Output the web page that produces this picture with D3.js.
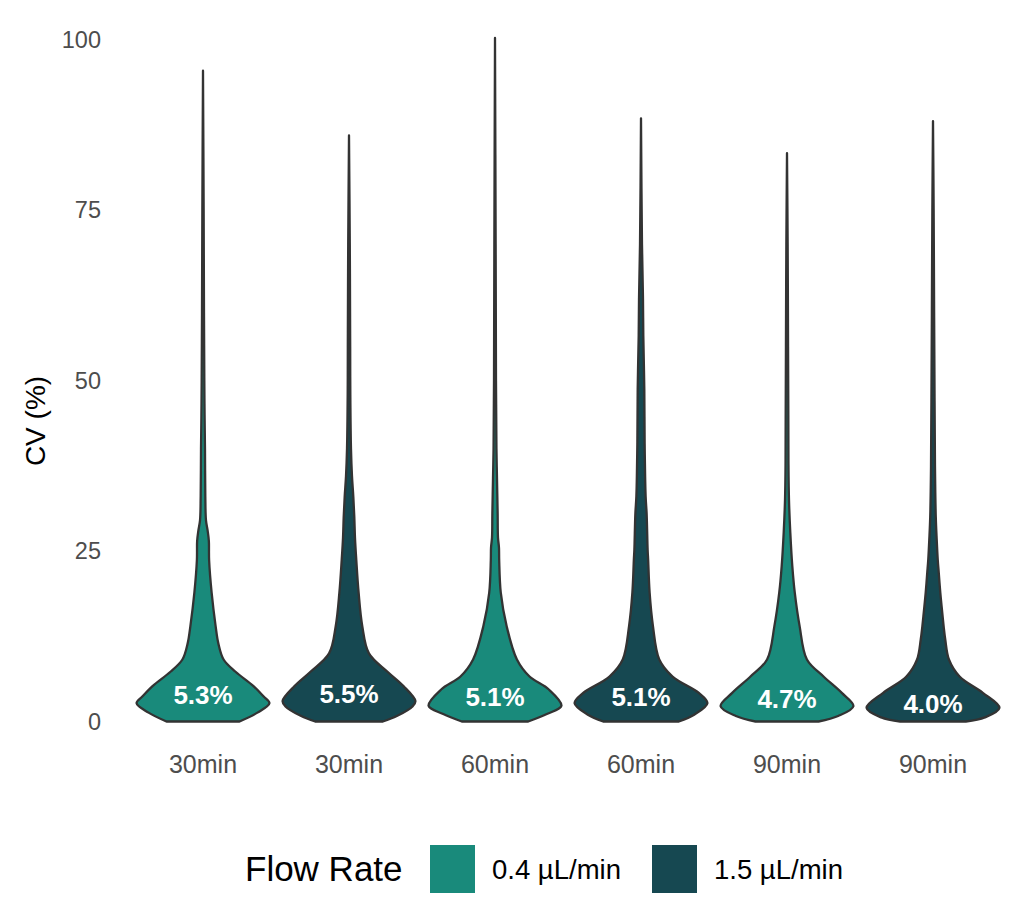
<!DOCTYPE html>
<html>
<head>
<meta charset="utf-8">
<script src="https://cdn.jsdelivr.net/npm/d3@7"></script>
<style>
  body { margin: 0; background: #fff; }
  svg { font-family: "Liberation Sans", Arial, sans-serif; }
</style>
</head>
<body>
<div id="chart"></div>
<script>
// categories
const timeLabels = ["30min", "30min", "60min", "60min", "90min", "90min"];
const flowRates = ["0.4 µL/min", "1.5 µL/min", "0.4 µL/min", "1.5 µL/min", "0.4 µL/min", "1.5 µL/min"];
const flowLevels = ["0.4 µL/min", "1.5 µL/min"];
const medians = [5.3, 5.5, 5.1, 5.1, 4.7, 4.0];
const yTicks = [0, 25, 50, 75, 100];

// violin outlines: [CV %, relative half width]
const v30a = [[0,0.55],[1.3,0.82],[2.7,1],[3.7,0.91],[5.2,0.76],[7.3,0.49],[9.1,0.31],[11.5,0.23],[14,0.19],[18.9,0.13],[23.7,0.092],[26.5,0.088],[28,0.07],[29.5,0.045],[33,0.035],[40,0.03],[45,0.024],[50,0.02],[60,0.015],[75,0.01],[95.5,0]];
const v30b = [[0,0.51],[0.8,0.72],[2.25,0.96],[3,1],[5.2,0.82],[7.3,0.58],[10,0.3],[14,0.2],[18.9,0.145],[23.7,0.11],[27,0.09],[30,0.08],[33,0.065],[36,0.045],[40,0.03],[48,0.02],[55,0.018],[70,0.012],[86,0]];
const v60a = [[0,0.5],[1.1,0.78],[2.3,1],[4.7,0.81],[6.6,0.52],[9.1,0.33],[14,0.175],[18.9,0.087],[23.7,0.063],[25.5,0.06],[27,0.045],[30.5,0.04],[35.7,0.03],[40,0.022],[50,0.015],[70,0.01],[100.3,0]];
const v60b = [[0,0.57],[1,0.8],[2.7,1],[4.2,0.87],[6.6,0.475],[9.1,0.275],[14,0.18],[18.9,0.13],[23.7,0.108],[25.2,0.1],[30.5,0.085],[33,0.07],[40.9,0.055],[48.7,0.05],[56.6,0.035],[62,0.03],[70,0.015],[88.5,0]];
const v90a = [[0,0.475],[0.8,0.77],[2.25,1],[4.2,0.825],[6.6,0.55],[9.1,0.3],[14,0.19],[18.9,0.117],[22.8,0.08],[27.7,0.05],[32.5,0.03],[38,0.022],[45,0.02],[55,0.016],[70,0.01],[83.4,0]];
const v90b = [[0,0.495],[0.6,0.78],[2,1],[4.2,0.75],[6.6,0.4],[9.1,0.24],[12,0.185],[14,0.16],[16.9,0.13],[18.9,0.11],[21.8,0.087],[23.7,0.072],[26.7,0.056],[30,0.042],[37.4,0.03],[47,0.024],[60,0.017],[75,0.01],[88.1,0]];
const profiles = [v30a, v30b, v60a, v60b, v90a, v90b];

const width = 1024, height = 898;
const marginLeft = 130, marginRight = 18, marginTop = 40, marginBottom = 176;
const colors = ["#198a7b", "#164851"];

const svg = d3.select("#chart").append("svg")
    .attr("width", width)
    .attr("height", height)
    .attr("viewBox", [0, 0, width, height]);

const x = d3.scaleBand()
    .domain(d3.range(profiles.length))
    .range([marginLeft, width - marginRight])
    .padding(0);

const y = d3.scaleLinear()
    .domain([0, 100])
    .range([height - marginBottom - 0.5, marginTop]);

const w = d3.scaleLinear()
    .domain([0, 1])
    .range([0, x.bandwidth() * 0.91 / 2]);

const color = d3.scaleOrdinal().domain(flowLevels).range(colors);

// y-axis
svg.append("g")
    .attr("transform", `translate(${marginLeft},0)`)
    .call(d3.axisLeft(y).tickValues(yTicks).tickSize(0).tickPadding(29))
    .call(g => g.select(".domain").remove())
    .call(g => g.selectAll("text")
        .attr("fill", "#4d4d4d")
        .style("font-size", "23.5px")
        .style("font-family", "Liberation Sans, Arial, sans-serif"));

svg.append("text")
    .attr("transform", "translate(45,421) rotate(-90)")
    .attr("text-anchor", "middle")
    .attr("fill", "#000")
    .style("font-size", "28px")
    .text("CV (%)");

// x-axis
svg.append("g")
    .attr("transform", `translate(0,${y(0)})`)
    .call(d3.axisBottom(x).tickFormat(i => timeLabels[i]).tickSize(0).tickPadding(34))
    .call(g => g.select(".domain").remove())
    .call(g => g.selectAll("text")
        .attr("fill", "#4d4d4d")
        .style("font-size", "25px")
        .style("font-family", "Liberation Sans, Arial, sans-serif"));

// violins
const violins = svg.append("g")
  .selectAll("g")
  .data(profiles)
  .join("g")
    .attr("transform", (d, i) => `translate(${x(i) + x.bandwidth() / 2},0)`);

violins.append("path")
    .attr("d", d => d3.area()
        .y(p => y(p[0]))
        .x0(p => -w(p[1]))
        .x1(p => w(p[1]))
        .curve(d3.curveCatmullRom)(d))
    .attr("fill", (d, i) => color(flowRates[i]))
    .attr("stroke", "#333333")
    .attr("stroke-width", 2.3)
    .attr("stroke-linejoin", "round");

violins.append("text")
    .attr("y", (d, i) => y(medians[i]) + 19)
    .attr("text-anchor", "middle")
    .attr("fill", "#fff")
    .style("font-size", "26px")
    .style("font-weight", "bold")
    .text((d, i) => medians[i].toFixed(1) + "%");

// legend
const legend = svg.append("g").attr("transform", "translate(0,869)");

legend.append("text")
    .attr("x", 245)
    .attr("dy", "0.35em")
    .attr("fill", "#000")
    .style("font-size", "35px")
    .text("Flow Rate");

const item = legend.selectAll(".item")
  .data(flowLevels)
  .join("g")
    .attr("class", "item")
    .attr("transform", (d, i) => `translate(${430 + i * 222},0)`);

item.append("rect")
    .attr("y", -24)
    .attr("width", 45)
    .attr("height", 48)
    .attr("fill", d => color(d));

item.append("text")
    .attr("x", 62)
    .attr("dy", "0.35em")
    .attr("fill", "#000")
    .style("font-size", "27.5px")
    .text(d => d);
</script>
</body>
</html>
